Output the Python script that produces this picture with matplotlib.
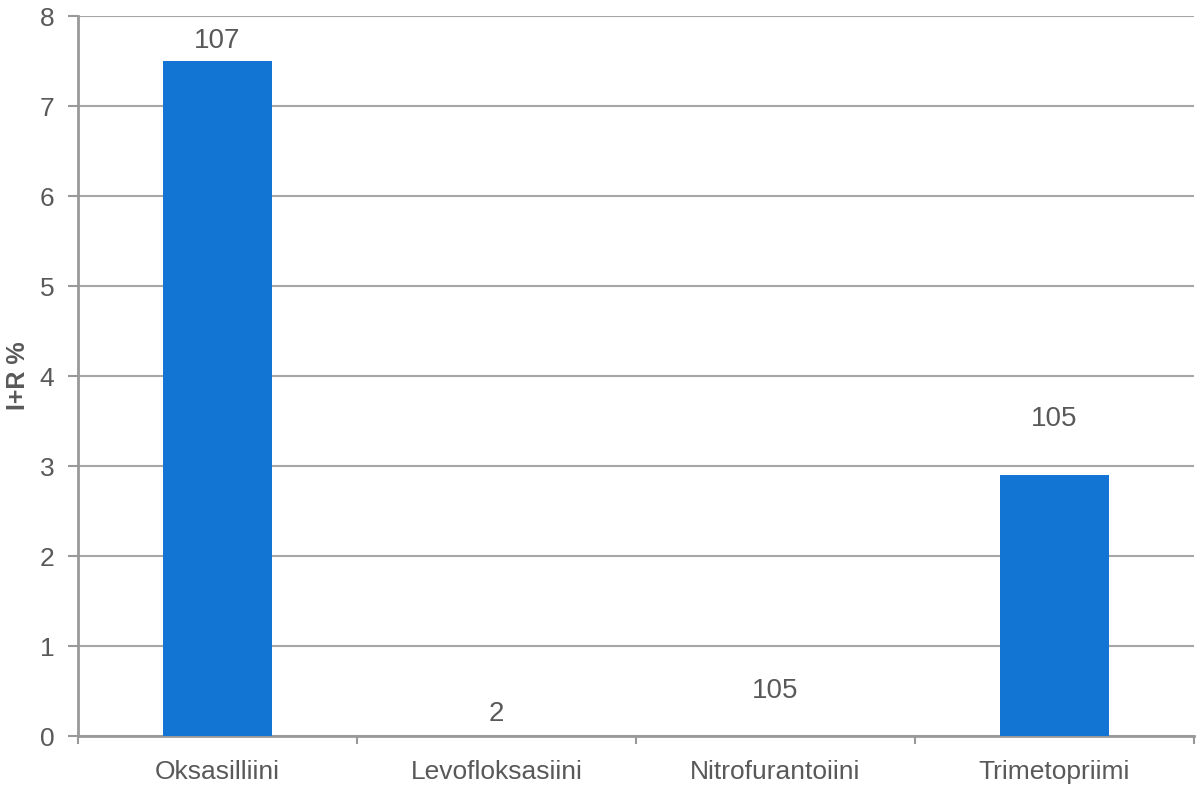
import numpy as np
import matplotlib
matplotlib.use('Agg')
import matplotlib.pyplot as plt

# data
categories = ['Oksasilliini', 'Levofloksasiini', 'Nitrofurantoiini', 'Trimetopriimi']
values = [7.5, 0.0, 0.0, 2.9]
counts = ['107', '2', '105', '105']
# where the count labels sit above each bar (data units)
label_offset = [0.22, 0.24, 0.5, 0.62]

plt.rcParams['font.family'] = ['Liberation Sans', 'DejaVu Sans']
text_color = '#595959'
grid_color = '#A6A6A6'

fig = plt.figure(figsize=(11.96, 7.85), dpi=100)
ax = fig.add_axes([0.0652, 0.0624, 0.9328, 0.9172])

x = np.arange(len(categories))
ax.bar(x, values, width=0.39, color='#1275D4', zorder=3)

for i in range(len(categories)):
    ax.text(x[i], values[i] + label_offset[i], counts[i], ha='center', va='center',
            fontsize=20, color=text_color)

ax.set_xlim(-0.5, len(categories) - 0.5)
ax.set_ylim(0, 8)
ax.set_yticks(range(0, 9))
ax.set_xticks(x)
ax.set_xticklabels(categories)
ax.set_xticks(np.arange(-0.5, len(categories)), minor=True)

ax.yaxis.grid(True, color=grid_color, linewidth=1.5, zorder=0)
ax.set_axisbelow(True)

for side in ['top', 'right']:
    ax.spines[side].set_visible(False)
for side in ['left', 'bottom']:
    ax.spines[side].set_color('#999999')
    ax.spines[side].set_linewidth(2)

ax.tick_params(axis='y', which='major', length=7, width=1.5, color='#999999',
               labelsize=19, labelcolor=text_color, pad=10)
ax.tick_params(axis='x', which='major', length=0, labelsize=19, labelcolor=text_color, pad=17)
ax.tick_params(axis='x', which='minor', length=6, width=1.5, color='#999999')

ax.set_ylabel('I+R %', fontsize=18, fontweight='bold', color=text_color)
ax.yaxis.set_label_coords(-0.043, 0.5)

fig.savefig('out.png', dpi=100)
